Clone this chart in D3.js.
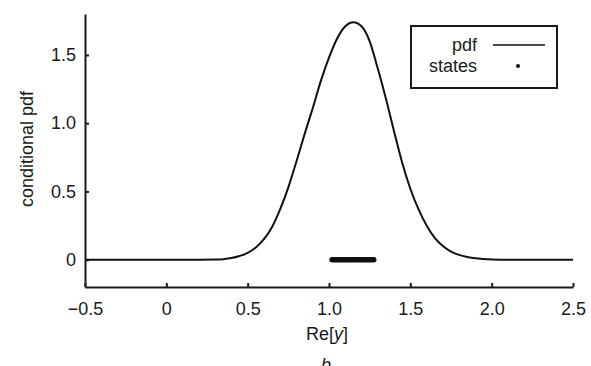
<!DOCTYPE html>
<html>
<head>
<meta charset="utf-8">
<script src="https://cdn.jsdelivr.net/npm/d3@7"></script>
<style>
  body { margin: 0; background: #fff; }
  svg { display: block; font-family: "Liberation Sans", Arial, sans-serif; }
  .axis path, .axis line { stroke: #1a1a1a; stroke-width: 2; }
  .axis text { font-size: 18px; fill: #1a1a1a; }
  .label { font-size: 18px; fill: #1a1a1a; }
</style>
</head>
<body>
<svg id="chart" width="591" height="366"></svg>
<script>
"use strict";

// pdf curve, every 0.05
const pdfX = [-0.5, -0.4, -0.3, -0.2, -0.1, 0, 0.1, 0.2, 0.3, 0.35, 0.4, 0.45, 0.5, 0.55, 0.6, 0.65,
  0.7, 0.75, 0.8, 0.85, 0.9, 0.95, 1.0, 1.05, 1.1, 1.15, 1.2, 1.25, 1.3, 1.35, 1.4, 1.45,
  1.5, 1.55, 1.6, 1.65, 1.7, 1.75, 1.8, 1.85, 1.9, 1.95, 2.0, 2.1, 2.2, 2.3, 2.4, 2.5];
const pdfY = [0, 0, 0, 0, 0, 0, 0, 0, 0.001, 0.004, 0.012, 0.027, 0.05, 0.09, 0.15, 0.24,
  0.37, 0.53, 0.72, 0.92, 1.11, 1.31, 1.48, 1.62, 1.71, 1.74, 1.71, 1.60, 1.40, 1.18, 0.94, 0.71,
  0.52, 0.37, 0.25, 0.16, 0.10, 0.06, 0.035, 0.02, 0.01, 0.005, 0.002, 0, 0, 0, 0, 0];

// states sit on y = 0, packed so tightly they read as a bar
const states = [1.018, 1.025, 1.031, 1.038, 1.044, 1.05, 1.057, 1.063, 1.07, 1.076, 1.083,
  1.089, 1.095, 1.102, 1.108, 1.115, 1.121, 1.128, 1.134, 1.14, 1.147, 1.153, 1.16, 1.166,
  1.173, 1.179, 1.185, 1.192, 1.198, 1.205, 1.211, 1.218, 1.224, 1.23, 1.237, 1.243, 1.25,
  1.256, 1.263, 1.269, 1.276];

const xTicks = [-0.5, 0, 0.5, 1.0, 1.5, 2.0, 2.5];
const xTickLabels = ["\u22120.5", "0", "0.5", "1.0", "1.5", "2.0", "2.5"];
const yTicks = [0, 0.5, 1.0, 1.5];
const yTickLabels = ["0", "0.5", "1.0", "1.5"];

(function () {
  let margin = {top: 14, right: 18, bottom: 79, left: 85};
  let svg = d3.select('#chart');
  let width = +svg.attr('width') - margin.left - margin.right;
  let height = +svg.attr('height') - margin.top - margin.bottom;

  let g = svg.append('g')
    .attr('transform', 'translate(' + margin.left + ',' + margin.top + ')');

  let xScale = d3.scaleLinear().domain([-0.5, 2.5]).range([0, width]);
  let yScale = d3.scaleLinear().domain([-0.2, 1.8]).range([height, 0]);

  let xAxis = d3.axisBottom(xScale)
    .tickValues(xTicks)
    .tickFormat((d, i) => xTickLabels[i])
    .tickSizeInner(-4)
    .tickSizeOuter(0)
    .tickPadding(15);

  let yAxis = d3.axisLeft(yScale)
    .tickValues(yTicks)
    .tickFormat((d, i) => yTickLabels[i])
    .tickSizeInner(-4)
    .tickSizeOuter(0)
    .tickPadding(9);

  g.append('g')
    .attr('class', 'x axis')
    .attr('transform', 'translate(0,' + height + ')')
    .call(xAxis);

  g.append('g')
    .attr('class', 'y axis')
    .call(yAxis);

  let line = d3.line()
    .x(d => xScale(d[0]))
    .y(d => yScale(d[1]))
    .curve(d3.curveMonotoneX);

  g.append('path')
    .datum(pdfX.map((x, i) => [x, pdfY[i]]))
    .attr('d', line)
    .attr('fill', 'none')
    .attr('stroke', '#111')
    .attr('stroke-width', 2);

  g.selectAll('.state').data(states).enter().append('circle')
    .attr('class', 'state')
    .attr('cx', d => xScale(d))
    .attr('cy', yScale(0))
    .attr('r', 2.6)
    .attr('fill', '#111');

  // axis titles
  let xTitle = svg.append('text')
    .attr('class', 'label')
    .attr('text-anchor', 'middle')
    .attr('x', 327)
    .attr('y', 340);
  xTitle.append('tspan').text('Re[');
  xTitle.append('tspan').attr('font-style', 'italic').text('y');
  xTitle.append('tspan').text(']');

  svg.append('text')
    .attr('class', 'label')
    .attr('text-anchor', 'middle')
    .attr('transform', 'translate(33,149) rotate(-90)')
    .text('conditional pdf');

  // panel letter, clipped by the bottom edge as in the source
  svg.append('text')
    .attr('class', 'label')
    .attr('text-anchor', 'middle')
    .attr('font-style', 'italic')
    .attr('x', 326)
    .attr('y', 371)
    .text('b');

  // legend
  let legend = svg.append('g').attr('class', 'legend');
  legend.append('rect')
    .attr('x', 411).attr('y', 26)
    .attr('width', 146).attr('height', 62)
    .attr('fill', '#fff')
    .attr('stroke', '#1a1a1a')
    .attr('stroke-width', 2);
  legend.append('text')
    .attr('class', 'label')
    .attr('text-anchor', 'end')
    .attr('x', 477).attr('y', 51)
    .text('pdf');
  legend.append('line')
    .attr('x1', 493).attr('x2', 545)
    .attr('y1', 45).attr('y2', 45)
    .attr('stroke', '#111')
    .attr('stroke-width', 1.5);
  legend.append('text')
    .attr('class', 'label')
    .attr('text-anchor', 'end')
    .attr('x', 477).attr('y', 72)
    .text('states');
  legend.append('circle')
    .attr('cx', 518).attr('cy', 66)
    .attr('r', 2)
    .attr('fill', '#111');
})();
</script>
</body>
</html>
